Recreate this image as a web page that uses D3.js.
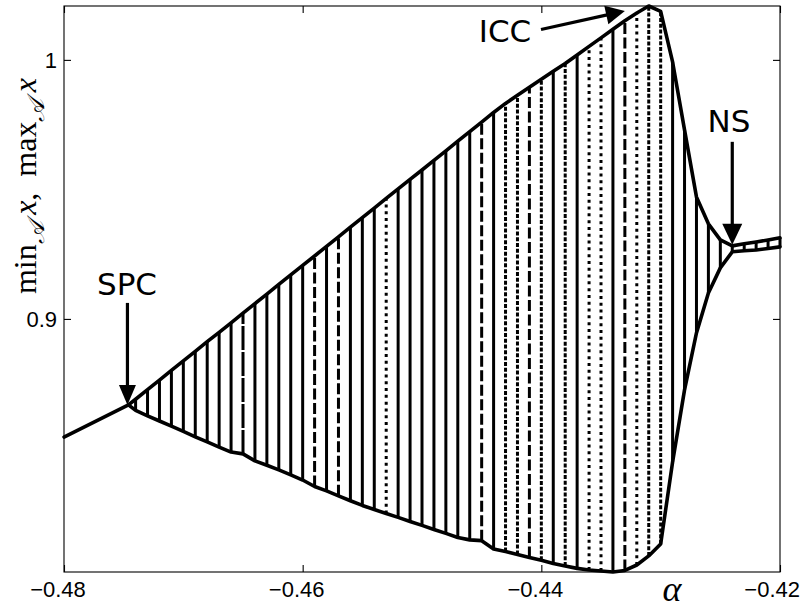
<!DOCTYPE html>
<html>
<head>
<meta charset="utf-8">
<script src="https://cdn.jsdelivr.net/npm/d3@7/dist/d3.min.js"></script>
<style>
  html, body { margin: 0; padding: 0; background: #fff; }
  svg { display: block; }
</style>
</head>
<body>
<svg id="chart" width="804" height="608"></svg>
<script>
// ---------------- data ----------------
const alphaValues = [-0.474, -0.473, -0.472, -0.471, -0.470, -0.469, -0.468, -0.467, -0.466,
  -0.465, -0.464, -0.463, -0.462, -0.461, -0.460, -0.459, -0.458, -0.457, -0.456,
  -0.455, -0.454, -0.453, -0.452, -0.451, -0.450, -0.449, -0.448, -0.447, -0.446,
  -0.445, -0.444, -0.443, -0.442, -0.441, -0.440, -0.439, -0.438, -0.437, -0.436,
  -0.435, -0.434, -0.433, -0.432, -0.431, -0.430, -0.429, -0.428, -0.427, -0.426,
  -0.425, -0.424, -0.423, -0.422, -0.421, -0.420];

const maxValues = [0.8690, 0.8727, 0.8764, 0.8801, 0.8838, 0.8875, 0.8912, 0.8948, 0.8985,
  0.9022, 0.9059, 0.9096, 0.9133, 0.9170, 0.9207, 0.9243, 0.9280, 0.9317, 0.9354,
  0.9391, 0.9428, 0.9465, 0.9502, 0.9539, 0.9575, 0.9612, 0.9649, 0.9686, 0.9723,
  0.9760, 0.9797, 0.9832, 0.9863, 0.9894, 0.9925, 0.9956, 0.9986, 1.0019, 1.0052,
  1.0085, 1.0118, 1.0151, 1.0181, 1.0208, 1.0187, 0.9992, 0.9730, 0.9471, 0.9367,
  0.9305, 0.9282, 0.9290, 0.9297, 0.9305, 0.9313];

const minValues = [0.8647, 0.8626, 0.8606, 0.8586, 0.8566, 0.8545, 0.8525, 0.8505, 0.8486,
  0.8479, 0.8452, 0.8435, 0.8417, 0.8398, 0.8378, 0.8353, 0.8336, 0.8317, 0.8298,
  0.8280, 0.8264, 0.8249, 0.8234, 0.8218, 0.8203, 0.8187, 0.8172, 0.8156, 0.8147,
  0.8144, 0.8112, 0.8102, 0.8091, 0.8079, 0.8068, 0.8056, 0.8046, 0.8037, 0.8031,
  0.8027, 0.8023, 0.8029, 0.8050, 0.8085, 0.8131, 0.8448, 0.8726, 0.8946, 0.9100,
  0.9197, 0.9259, 0.9263, 0.9266, 0.9272, 0.9278];

// s = solid, g = nearly solid, d = dashed, n = dense dash, o = dotted
const pointStyle = ["s","s","s","s","s","s","s","s","s",
  "g","s","s","s","s","s","d","s","d","s",
  "s","s","o","s","s","s","s","s","s","s",
  "d","s","n","n","d","n","s","n","s","o",
  "o","s","d","o","n","n","s","s","s","s",
  "s","s","s","s","s","s"];

// single fixed-point branch left of SPC
const leftAlpha = [-0.480, -0.4746];
const leftValue = [0.8544, 0.8668];

// bifurcation points
const spcPoint = { alpha: -0.4746, value: 0.8668 };
const iccPoint = { alpha: -0.4330, value: 1.0189 };
const nsPoint  = { alpha: -0.4240, value: 0.9286 };

const xTicks = [-0.48, -0.46, -0.44, -0.42];
const xTickLabels = ["\u22120.48", "\u22120.46", "\u22120.44", "\u22120.42"];
const yTicks = [0.9, 1.0];
const yTickLabels = ["0.9", "1"];

// ---------------- drawing ----------------
const svg = d3.select("#chart");
const W = 804, H = 608;
const x = d3.scaleLinear().domain([-0.48, -0.42]).range([64, 780]);
const y = d3.scaleLinear().domain([0.8023, 1.0208]).range([572, 6]);

const dash = { s: null, g: "24,2", d: "11,3.5", n: "4,1.8", o: "3,3.8" };

// vertical sample lines
svg.append("g").selectAll("line")
  .data(alphaValues.map((a, i) => ({ a, lo: minValues[i], hi: maxValues[i], st: pointStyle[i] })))
  .join("line")
  .attr("x1", d => x(d.a)).attr("x2", d => x(d.a))
  .attr("y1", d => y(d.lo)).attr("y2", d => y(d.hi))
  .attr("stroke", "#000").attr("stroke-width", 3)
  .attr("stroke-dasharray", d => dash[d.st]);

// envelopes
const line = d3.line().x(d => x(d[0])).y(d => y(d[1]));
const upperPts = [[spcPoint.alpha, spcPoint.value]].concat(alphaValues.map((a, i) => [a, maxValues[i]]));
const lowerPts = [[spcPoint.alpha, spcPoint.value]].concat(alphaValues.map((a, i) => [a, minValues[i]]));
const leftPts = leftAlpha.map((a, i) => [a, leftValue[i]]);

[upperPts, lowerPts, leftPts].forEach(p => {
  svg.append("path").attr("d", line(p))
    .attr("fill", "none").attr("stroke", "#000")
    .attr("stroke-width", 3.6).attr("stroke-linejoin", "round").attr("stroke-linecap", "round");
});

// frame and ticks
svg.append("rect").attr("x", 64).attr("y", 6).attr("width", 716).attr("height", 566)
  .attr("fill", "none").attr("stroke", "#000").attr("stroke-width", 1.1);

const gb = svg.append("g").attr("transform", "translate(0,572)")
  .call(d3.axisBottom(x).tickValues(xTicks).tickSize(-7).tickFormat(""));
const gt = svg.append("g").attr("transform", "translate(0,6)")
  .call(d3.axisTop(x).tickValues(xTicks).tickSize(-7).tickFormat(""));
const gl = svg.append("g").attr("transform", "translate(64,0)")
  .call(d3.axisLeft(y).tickValues(yTicks).tickSize(-7).tickFormat(""));
const gr = svg.append("g").attr("transform", "translate(780,0)")
  .call(d3.axisRight(y).tickValues(yTicks).tickSize(-7).tickFormat(""));
[gb, gt, gl, gr].forEach(g => {
  g.select(".domain").remove();
  g.selectAll(".tick line").attr("stroke", "#000").attr("stroke-width", 1.1);
});

// tick labels
const tickFont = "'Liberation Sans', Arial, Helvetica, sans-serif";
svg.append("g").selectAll("text").data(xTicks).join("text")
  .attr("font-family", tickFont).attr("font-size", 22).attr("fill", "#000")
  .attr("text-anchor", "middle").attr("y", 597)
  .text((d, i) => xTickLabels[i])
  .attr("x", function (d) {
    const w = this.getComputedTextLength();
    return Math.min(x(d) - 6, W - 4 - w / 2);
  });

svg.append("g").selectAll("text").data(yTicks).join("text")
  .attr("font-family", tickFont).attr("font-size", 22).attr("fill", "#000")
  .attr("text-anchor", "end").attr("x", 57).attr("y", d => y(d) + 8)
  .text((d, i) => yTickLabels[i]);

// axis labels
svg.append("text").attr("x", 672).attr("y", 601)
  .attr("text-anchor", "middle")
  .attr("font-family", "'Liberation Serif', 'Times New Roman', serif")
  .attr("font-style", "italic").attr("font-size", 36).text("\u03b1");

const yl = svg.append("text")
  .attr("transform", "translate(36,186) rotate(-90)")
  .attr("text-anchor", "middle")
  .attr("font-family", "'Liberation Serif', 'Times New Roman', serif")
  .attr("font-size", 32).attr("fill", "#000");
const parts = [
  { t: "min", sub: false, it: false },
  { t: "\ud835\udc9c", sub: true, it: false },
  { t: "\u2009x", sub: false, it: true, back: true },
  { t: ",\u2002max", sub: false, it: false },
  { t: "\ud835\udc9c", sub: true, it: false },
  { t: "\u2009x", sub: false, it: true, back: true }
];
parts.forEach(p => {
  const ts = yl.append("tspan").text(p.t);
  if (p.sub) ts.attr("font-size", 24).attr("font-style", "italic").attr("dy", 8);
  if (p.back) ts.attr("dy", -8);
  if (p.it) ts.attr("font-style", "italic");
});

// annotations
function arrow(sx, sy, tx, ty, headLen, headHalf) {
  const dx = tx - sx, dy = ty - sy, L = Math.hypot(dx, dy);
  const ux = dx / L, uy = dy / L;
  const bx = tx - ux * headLen, by = ty - uy * headLen;
  svg.append("line").attr("x1", sx).attr("y1", sy).attr("x2", bx + ux * 2).attr("y2", by + uy * 2)
    .attr("stroke", "#000").attr("stroke-width", 3.2);
  svg.append("path")
    .attr("d", `M${tx},${ty}L${bx - uy * headHalf},${by + ux * headHalf}L${bx + uy * headHalf},${by - ux * headHalf}Z`)
    .attr("fill", "#000");
}
const annFont = "'DejaVu Sans', Verdana, sans-serif";
const spcX = x(spcPoint.alpha), spcY = y(spcPoint.value);
arrow(spcX - 1, spcY - 102, spcX - 1, spcY, 20, 8.5);
svg.append("text").attr("x", 127).attr("y", 295).attr("text-anchor", "middle")
  .attr("font-family", annFont).attr("font-size", 31).text("SPC");

const iccX = x(iccPoint.alpha), iccY = y(iccPoint.value);
arrow(541, 29.5, iccX, iccY, 19, 9.5);
svg.append("text").attr("x", 505).attr("y", 42).attr("text-anchor", "middle")
  .attr("font-family", annFont).attr("font-size", 31).text("ICC");

const nsX = x(nsPoint.alpha), nsY = y(nsPoint.value);
arrow(nsX, nsY - 103, nsX, nsY, 21, 10);
svg.append("text").attr("x", 729).attr("y", 132).attr("text-anchor", "middle")
  .attr("font-family", annFont).attr("font-size", 31).text("NS");
</script>
</body>
</html>
